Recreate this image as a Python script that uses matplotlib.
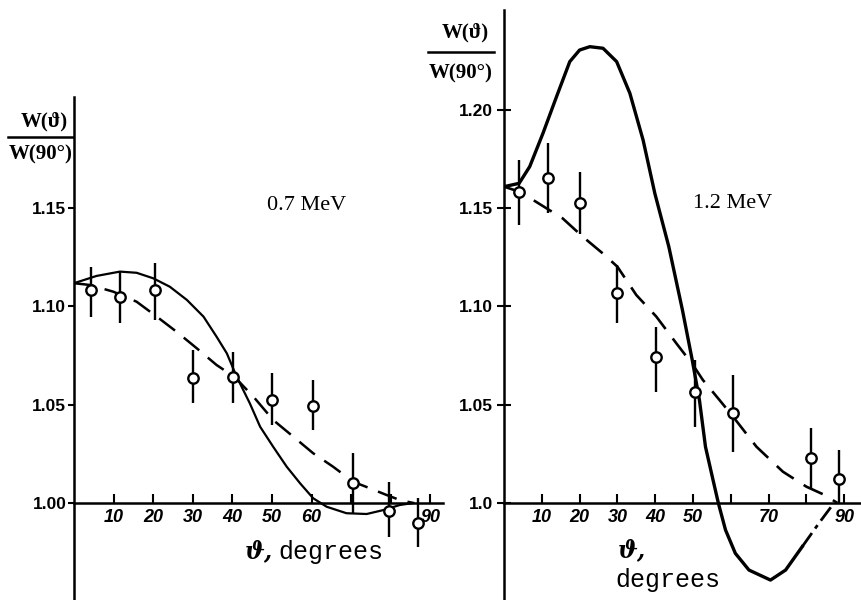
import matplotlib

matplotlib.use('Agg')
import matplotlib.pyplot as plt
from matplotlib.lines import Line2D

# --- 0.7 MeV: measured points (angle in degrees, W(theta)/W(90)) ---
theta_07 = [4.4, 11.6, 20.4, 30.0, 40.1, 49.9, 60.3, 70.4, 79.6, 86.9]
w_07 = [1.1083, 1.1049, 1.1083, 1.0637, 1.0642, 1.0524, 1.0495, 1.0103, 0.9959, 0.9900]
w_07_hi = [1.1202, 1.1177, 1.1219, 1.0778, 1.0770, 1.0660, 1.0626, 1.0253, 1.0108, 1.0024]
w_07_lo = [1.0948, 1.0914, 1.0931, 1.0507, 1.0507, 1.0397, 1.0371, 0.9948, 0.9829, 0.9778]

# 0.7 MeV theory curves
solid_07_theta = [0, 5.7, 11.6, 15.8, 20.0, 24.2, 28.5, 32.7, 36.0, 38.6, 40.6, 41.9,
                  44.4, 47.0, 50.3, 53.7, 57.1, 60.4, 63.8, 68.8, 73.9, 78.1, 82.3, 85.7]
solid_07 = [1.1118, 1.1155, 1.1177, 1.1171, 1.1143, 1.1100, 1.1033, 1.0948, 1.0846, 1.0761,
            1.0665, 1.0609, 1.0507, 1.0388, 1.0286, 1.0185, 1.0100, 1.0024, 0.9981, 0.9948,
            0.9944, 0.9964, 0.9990, 1.0000]
dashed_07_theta = [0, 4.0, 9.9, 15.8, 20.9, 25.9, 31.0, 36.0, 40.6, 45.3, 50.3, 55.4, 60.4,
                   65.4, 70.5, 74.7, 78.9, 82.3, 85.7]
dashed_07 = [1.1118, 1.1109, 1.1075, 1.1024, 1.0948, 1.0871, 1.0787, 1.0702, 1.0640, 1.0541,
             1.0422, 1.0337, 1.0253, 1.0185, 1.0108, 1.0075, 1.0041, 1.0015, 1.0000]

# --- 1.2 MeV: measured points ---
theta_12 = [4.0, 11.7, 20.0, 30.0, 40.3, 50.5, 60.6, 81.1, 88.6]
w_12 = [1.1584, 1.1652, 1.1524, 1.1067, 1.0744, 1.0566, 1.0459, 1.0227, 1.0120]
w_12_hi = [1.1745, 1.1830, 1.1685, 1.1210, 1.0897, 1.0727, 1.0651, 1.0380, 1.0270]
w_12_lo = [1.1414, 1.1474, 1.1370, 1.0914, 1.0566, 1.0388, 1.0261, 1.0075, 1.0000]

# 1.2 MeV theory curves
solid_12_theta = [0, 4.0, 6.8, 10.3, 13.9, 17.4, 20.0, 22.7, 26.2, 29.8, 33.3, 36.8, 39.9,
                  43.6, 47.2, 49.8, 51.7, 53.3, 55.1, 56.7, 58.6, 61.2, 64.8, 70.5, 74.5, 78.9]
solid_12 = [1.1609, 1.1626, 1.1711, 1.1880, 1.2067, 1.2245, 1.2304, 1.2321, 1.2313, 1.2245,
            1.2084, 1.1846, 1.1575, 1.1304, 1.0982, 1.0727, 1.0524, 1.0286, 1.0134, 1.0000,
            0.9863, 0.9744, 0.9659, 0.9608, 0.9659, 0.9778]
tail_12_theta = [78.9, 83.3, 87.3]
tail_12 = [0.9778, 0.9897, 1.0000]
dashed_12_theta = [0, 4.0, 8.4, 15.5, 20.8, 26.1, 30.0, 35.0, 40.3, 45.6, 50.0, 52.6, 57.0,
                   60.6, 66.8, 73.8, 80.0, 84.8, 88.2]
dashed_12 = [1.1609, 1.1584, 1.1533, 1.1448, 1.1355, 1.1270, 1.1202, 1.1058, 1.0948, 1.0812,
             1.0702, 1.0626, 1.0524, 1.0439, 1.0286, 1.0159, 1.0083, 1.0041, 1.0000]

W, H = 862, 600
PX_PER_UNIT = 1966.0   # pixels per unit of W ratio
AXIS_Y = 503           # pixel row of the 1.00 line


def fx(x):
    return x / W


def fy(y):
    return 1 - y / H


def setup_axes(fig, left_px, right_px, top_px, deg_px, ticklabels, yticks, ytick_labels, ydir):
    ax = fig.add_axes([fx(left_px), 0, (right_px - left_px) / W, (H - top_px) / H])
    ax.set_xlim(0, (right_px - left_px) / deg_px)
    ax.set_ylim(1 - (H - AXIS_Y) / PX_PER_UNIT, 1 + (AXIS_Y - top_px) / PX_PER_UNIT)
    for s in ['top', 'right']:
        ax.spines[s].set_visible(False)
    ax.spines['bottom'].set_position(('data', 1.0))
    ax.spines['bottom'].set_linewidth(1.8)
    ax.spines['left'].set_linewidth(1.8)
    ax.set_xticks([10, 20, 30, 40, 50, 60, 70, 80, 90])
    ax.set_xticklabels(ticklabels)
    ax.tick_params(axis='x', direction='in', length=6.5, width=1.5, pad=4)
    for lab in ax.get_xticklabels():
        lab.set_fontfamily('Liberation Sans')
        lab.set_fontstyle('italic')
        lab.set_fontweight('bold')
        lab.set_fontsize(13)
    ax.set_yticks(yticks)
    ax.set_yticklabels(ytick_labels)
    if ydir == 'out':
        ax.tick_params(axis='y', direction='out', length=4.5, width=1.5, pad=1)
    else:
        ax.tick_params(axis='y', direction='inout', length=10, width=1.5, pad=3)
    for lab in ax.get_yticklabels():
        lab.set_fontfamily('Liberation Sans')
        lab.set_fontweight('bold')
        lab.set_fontsize(12.5)
    ax.patch.set_alpha(0)
    return ax


def draw_points(ax, theta, w, hi, lo):
    yerr = [[v - l for v, l in zip(w, lo)], [h - v for v, h in zip(w, hi)]]
    ax.errorbar(theta, w, yerr=yerr, fmt='o', ms=7.5, mfc='white', mec='black', mew=1.7,
                ecolor='black', elinewidth=1.7, capsize=0, zorder=5)


def fraction_label(fig, cx_num, cx_den, y_num, y_bar, y_den, x0, x1):
    fam = ['Liberation Serif', 'DejaVu Serif']
    fig.text(fx(cx_num), fy(y_num), 'W(ϑ)', ha='center', va='center', fontsize=15,
             fontweight='bold', family=fam)
    fig.text(fx(cx_den), fy(y_den), 'W(90°)', ha='center', va='center', fontsize=15,
             fontweight='bold', family=fam)
    fig.add_artist(Line2D([fx(x0), fx(x1)], [fy(y_bar), fy(y_bar)], transform=fig.transFigure,
                          color='black', lw=1.8))


fig = plt.figure(figsize=(W / 100, H / 100), dpi=100)

# left panel, 0.7 MeV
ax1 = setup_axes(fig, 74, 443, 97, 3.96,
                 ['10', '20', '30', '40', '50', '60', '', '', '90'],
                 [1.00, 1.05, 1.10, 1.15], ['1.00', '1.05', '1.10', '1.15'], 'out')
ax1.plot(solid_07_theta, solid_07, color='black', lw=1.6, solid_joinstyle='round')
ax1.plot(dashed_07_theta, dashed_07, color='black', lw=1.8, dashes=(8, 4.5))
draw_points(ax1, theta_07, w_07, w_07_hi, w_07_lo)

# right panel, 1.2 MeV
ax2 = setup_axes(fig, 504, 862, 10, 3.78,
                 ['10', '20', '30', '40', '50', '', '70', '', '90'],
                 [1.00, 1.05, 1.10, 1.15, 1.20], ['1.0', '1.05', '1.10', '1.15', '1.20'], 'inout')
ax2.plot(solid_12_theta, solid_12, color='black', lw=2.4, solid_joinstyle='round')
ax2.plot(tail_12_theta, tail_12, color='black', lw=2.0, dashes=(6, 2, 1.5, 2))
ax2.plot(dashed_12_theta, dashed_12, color='black', lw=1.9, dashes=(8, 4.5))
draw_points(ax2, theta_12, w_12, w_12_hi, w_12_lo)

# energy labels
fig.text(fx(307), fy(205), '0.7 MeV', ha='center', va='center', fontsize=16,
         family=['Liberation Serif', 'DejaVu Serif'])
fig.text(fx(733), fy(203), '1.2 MeV', ha='center', va='center', fontsize=16,
         family=['Liberation Serif', 'DejaVu Serif'])

# y labels as fractions
fraction_label(fig, 44, 41, 121, 137, 154, 8, 73)
fraction_label(fig, 465, 461, 32, 52, 73, 428, 494)

# x axis labels
fig.text(fx(259), fy(551), 'ϑ,', ha='center', va='center', fontsize=17, fontweight='bold',
         family='DejaVu Serif', style='italic')
fig.text(fx(278), fy(552), 'degrees', ha='left', va='center', fontsize=18,
         family=['Liberation Mono', 'DejaVu Sans Mono'])
fig.text(fx(632), fy(550), 'ϑ,', ha='center', va='center', fontsize=17, fontweight='bold',
         family='DejaVu Serif', style='italic')
fig.text(fx(668), fy(580), 'degrees', ha='center', va='center', fontsize=18,
         family=['Liberation Mono', 'DejaVu Sans Mono'])

fig.savefig('out.png', dpi=100)
